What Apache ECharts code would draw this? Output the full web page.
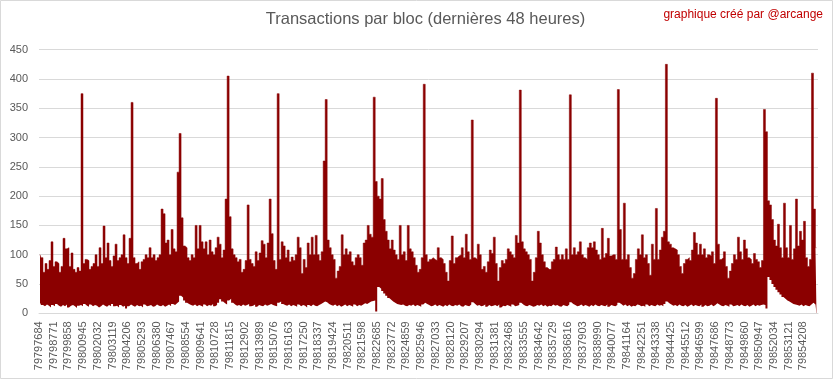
<!DOCTYPE html>
<html><head><meta charset="utf-8">
<script src="https://cdn.jsdelivr.net/npm/echarts@6/dist/echarts.min.js"></script>
<style>html,body{margin:0;padding:0;background:#fff}#c{width:833px;height:379px}</style>
</head><body><div id="c"></div>
<script>
const titleText = 'Transactions par bloc (dernières 48 heures)';
const creditText = 'graphique créé par @arcange';
const firstBlock = 79797684;
const labelStep = 1087;
const bucketSize = 148;
const tickLabels = ['79797684','79798771','79799858','79800945','79802032','79803119','79804206','79805293','79806380','79807467','79808554','79809641','79810728','79811815','79812902','79813989','79815076','79816163','79817250','79818337','79819424','79820511','79821598','79822685','79823772','79824859','79825946','79827033','79828120','79829207','79830294','79831381','79832468','79833555','79834642','79835729','79836816','79837903','79838990','79840077','79841164','79842251','79843338','79844425','79845512','79846599','79847686','79848773','79849860','79850947','79852034','79853121','79854208'];
// max transactions per block in each bucket of 148 blocks
const highs = [
100,95,70,85,75,90,122,80,88,85,
70,80,128,110,112,80,103,75,70,78,
72,375,85,92,90,75,80,85,100,80,
112,85,149,95,120,90,80,98,118,90,
95,100,134,95,85,128,360,95,85,88,
75,88,92,100,95,112,95,100,90,95,
100,178,170,120,125,100,143,110,105,241,
307,163,115,112,95,90,100,95,150,110,
150,122,110,122,100,125,105,100,112,130,
118,95,108,195,405,165,110,100,95,88,
92,70,75,90,185,92,85,80,105,90,
103,124,118,95,120,195,136,90,75,375,
92,122,115,95,108,88,96,90,100,130,
112,68,92,78,120,100,130,100,133,100,
90,105,260,365,125,112,100,92,60,72,
80,134,100,110,100,105,88,82,95,100,
95,82,120,125,150,135,130,369,225,200,
195,230,160,140,125,110,125,108,100,92,
150,100,105,90,150,110,105,95,82,70,
75,95,391,100,88,92,95,92,90,112,
95,92,85,70,55,90,132,85,95,98,
100,112,95,135,105,92,330,95,92,118,
100,75,80,70,88,108,102,130,85,55,
78,90,85,92,110,105,100,95,133,120,
381,122,110,105,100,92,55,70,95,140,
120,100,88,78,75,75,88,92,113,100,
92,100,92,110,92,373,100,112,100,105,
122,100,95,92,112,120,112,122,108,100,
92,145,95,102,128,98,100,100,92,382,
143,92,188,92,100,78,60,68,92,110,
100,134,95,100,85,65,118,92,179,92,
108,130,140,425,122,118,112,110,108,100,
80,68,85,92,95,90,108,138,120,100,
118,100,110,95,100,98,105,85,367,118,
92,95,105,80,60,72,85,100,92,130,
105,92,125,110,95,92,85,102,92,88,
78,90,348,310,192,185,160,125,115,152,
112,95,188,112,95,150,92,110,195,115,
140,125,157,95,80,92,410,178,112
];
// min transactions per block in each bucket
const lows = [
18,14,12,15,13,10,14,12,16,13,11,14,12,15,10,13,14,12,9,13,
14,12,16,13,11,15,12,14,13,10,12,15,13,11,14,12,16,12,13,10,
14,11,13,8,12,15,13,11,14,12,13,10,15,12,13,14,11,12,15,13,
12,14,11,13,15,12,16,14,17,20,30,27,22,18,16,14,13,15,12,14,
13,11,15,12,14,13,16,12,14,18,24,20,17,15,22,25,18,15,13,14,
12,15,13,14,16,12,13,15,11,14,13,12,15,13,14,16,14,13,12,18,
20,16,14,13,15,12,14,13,11,15,12,14,13,10,14,12,15,13,12,14,
16,18,20,19,16,14,13,15,12,14,11,13,15,12,14,13,11,15,12,14,
13,15,17,16,18,20,21,22,3,45,42,38,34,30,26,23,20,18,16,15,
14,15,13,12,14,13,15,12,14,13,11,15,18,16,14,12,13,15,12,14,
13,11,14,12,15,13,12,14,13,15,12,11,14,13,12,15,19,16,13,14,
12,13,15,11,14,12,13,14,12,15,10,13,12,14,13,11,15,12,13,14,
18,15,13,12,14,13,11,12,14,13,15,12,14,11,13,12,15,13,14,12,
11,14,13,12,15,19,16,14,12,13,15,12,14,13,11,14,12,15,13,12,
14,13,12,15,11,14,13,12,14,18,16,13,15,12,14,11,13,12,15,14,
12,13,11,15,12,14,13,12,15,13,14,12,16,20,17,15,13,14,12,15,
13,12,14,11,13,15,12,14,13,12,15,11,14,12,13,15,12,14,17,15,
13,12,14,13,11,15,12,13,14,12,15,13,12,14,11,13,15,12,14,13,
14,15,14,8,62,57,50,45,40,36,32,28,25,22,20,18,16,15,14,13,
15,12,14,13,12,15,18,15,13
];
const yMax = 450, yStep = 50;

const highData = [], lowData = [];
for (let i = 0; i < highs.length; i++) {
  const b = firstBlock + i * bucketSize + bucketSize / 2;
  highData.push([b, highs[i]]);
  lowData.push([b, lows[i]]);
}

const chart = echarts.init(document.getElementById('c'), null, {renderer: 'canvas'});
const font = '"Liberation Sans", Arial, sans-serif';
const red = '#8b0000';
chart.setOption({
  animation: false,
  backgroundColor: '#ffffff',
  grid: {left: 39, right: 15, top: 49.7, bottom: 65.7, containLabel: false},
  xAxis: {
    type: 'value',
    min: firstBlock,
    max: firstBlock + labelStep * tickLabels.length,
    interval: labelStep,
    z: 10,
    axisLine: {show: true, lineStyle: {color: '#d9d9d9', width: 1}},
    axisTick: {show: false},
    splitLine: {show: false},
    axisLabel: {
      rotate: 90, fontSize: 11, color: '#595959', fontFamily: font, margin: 8,
      showMaxLabel: false, showMinLabel: true, hideOverlap: false,
      formatter: v => { const k = Math.round((v - firstBlock) / labelStep); return k < tickLabels.length ? tickLabels[k] : ''; }
    }
  },
  yAxis: {
    type: 'value', min: 0, max: yMax, interval: yStep,
    axisLine: {show: false}, axisTick: {show: false},
    splitLine: {show: true, lineStyle: {color: '#d9d9d9', width: 1}},
    axisLabel: {fontSize: 11, color: '#595959', fontFamily: font, margin: 11}
  },
  series: [
    {type: 'line', name: 'max', data: highData, step: 'middle', showSymbol: false, silent: true, z: 2,
     lineStyle: {color: red, width: 0.5}, areaStyle: {color: red, opacity: 1}},
    {type: 'line', name: 'min', data: lowData, step: 'middle', showSymbol: false, silent: true, z: 3,
     lineStyle: {width: 0, opacity: 0}, areaStyle: {color: '#ffffff', opacity: 1}}
  ],
  graphic: [
    {type: 'rect', shape: {x: 0.5, y: 0.5, width: 832, height: 378}, style: {fill: 'none', stroke: '#d9d9d9', lineWidth: 1}, silent: true},
    {type: 'text', x: 425.5, y: 19, style: {text: titleText, fill: '#595959', font: '16.5px ' + font, textAlign: 'center', textVerticalAlign: 'middle'}},
    {type: 'text', x: 823, y: 14.5, style: {text: creditText, fill: '#c00000', font: '12px ' + font, textAlign: 'right', textVerticalAlign: 'middle'}}
  ]
});
</script></body></html>
